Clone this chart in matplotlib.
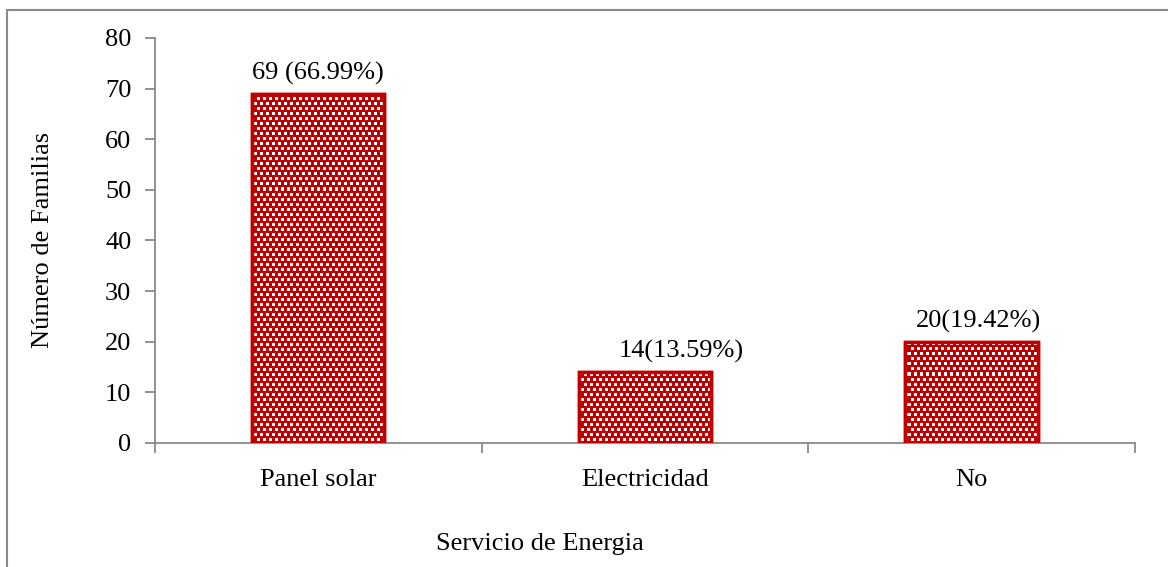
import numpy as np
import matplotlib.pyplot as plt
from matplotlib.patches import Rectangle

# Datos
categorias = ['Panel solar', 'Electricidad', 'No']
familias = [69, 14, 20]
etiquetas = ['69 (66.99%)', '14(13.59%)', '20(19.42%)']

plt.rcParams['font.family'] = ['Liberation Serif', 'DejaVu Serif']

rojo = '#C00000'
gris = '#898989'

fig = plt.figure(figsize=(11.68, 5.67), dpi=100)
ax = fig.add_axes([0.1327, 0.2187, 0.8390, 0.7143])

x = list(range(len(categorias)))
barras = ax.bar(x, familias, width=0.405, color=rojo, edgecolor=rojo, linewidth=2.5)

# patron de cuadritos blancos (tipo Excel), recortado a cada barra
h, w = 405, 980
yy, xx = np.mgrid[0:h, 0:w]
fila = yy // 5
desp = 3 * (fila % 2)
cuadro = ((xx + desp) % 6 < 3) & (yy % 5 < 3)
patron = np.zeros((h, w, 4))
patron[..., :3] = 1.0
patron[..., 3] = cuadro.astype(float)
for b in barras:
    im = ax.imshow(patron, extent=(-0.5, 2.5, 0, 80), aspect='auto',
                   interpolation='nearest', zorder=b.get_zorder() + 0.1)
    im.set_clip_path(b)
# borde encima del patron
ax.bar(x, familias, width=0.405, fill=False, edgecolor=rojo, linewidth=2.5, zorder=3)

offsets = [0, 0.11, 0.02]
for xi, v, t, dx in zip(x, familias, etiquetas, offsets):
    ax.text(xi + dx, v + 1.8, t, ha='center', va='bottom', fontsize=19)

ax.set_xlim(-0.5, 2.5)
ax.set_ylim(0, 80)
ax.set_yticks(range(0, 81, 10))
ax.set_xticks(x)
ax.set_xticklabels(categorias, fontsize=19)
ax.tick_params(axis='x', length=0, pad=19)
ax.set_xticks([-0.5, 0.5, 1.5, 2.5], minor=True)
ax.tick_params(axis='x', which='minor', length=7, color=gris, width=1.3)
ax.tick_params(axis='y', labelsize=19, length=7, color=gris, width=1.3, pad=10)

for s in ['top', 'right']:
    ax.spines[s].set_visible(False)
for s in ['left', 'bottom']:
    ax.spines[s].set_color(gris)
    ax.spines[s].set_linewidth(1.3)

fig.text(0.037, 0.577, 'Número de Familias', rotation=90, ha='center', va='center', fontsize=19)
fig.text(0.462, 0.04, 'Servicio de Energia', ha='center', va='center', fontsize=19)

fig.patches.append(Rectangle((0.006, -0.05), 1.1, 1.032, transform=fig.transFigure,
                             fill=False, edgecolor=gris, linewidth=1.5))

fig.savefig('out.png', dpi=100)
